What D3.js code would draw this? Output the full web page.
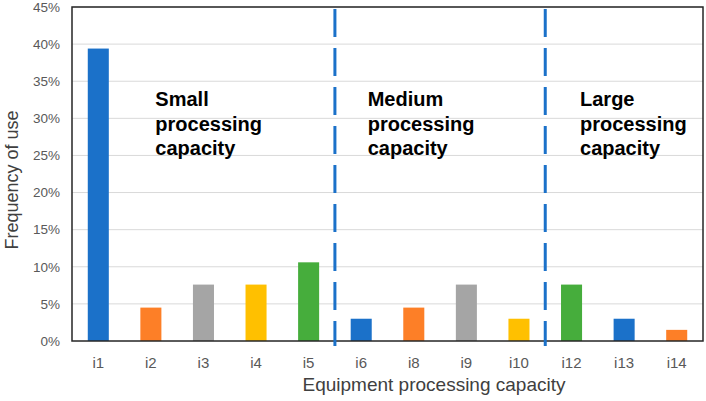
<!DOCTYPE html>
<html><head><meta charset="utf-8">
<script src="https://cdn.jsdelivr.net/npm/d3@7"></script>
<style>body{margin:0;background:#fff}svg{display:block}</style>
</head><body>
<script>
const categories = ["i1","i2","i3","i4","i5","i6","i8","i9","i10","i12","i13","i14"];
const values = [0.394,0.045,0.076,0.076,0.106,0.030,0.045,0.076,0.030,0.076,0.030,0.015];
const barColors = ["#1b71c9","#fd7f27","#a5a5a5","#ffc000","#46ad3c","#1b71c9","#fd7f27","#a5a5a5","#ffc000","#46ad3c","#1b71c9","#fd7f27"];
const yTicks = [0,0.05,0.10,0.15,0.20,0.25,0.30,0.35,0.40,0.45];
const groupBreaks = ["i6","i12"]; // dashed separators before these categories
const groupLabels = [
  {at:"i2", lines:["Small","processing","capacity"]},
  {at:"i6", lines:["Medium","processing","capacity"]},
  {at:"i12", lines:["Large","processing","capacity"]}
];

const W=706,H=401;
const m={l:72,t:7,r:3,b:60};
const svg=d3.select("body").append("svg").attr("width",W).attr("height",H);
const x=d3.scaleBand().domain(categories).range([m.l,W-m.r]).paddingInner(0.6).paddingOuter(0.3);
const y=d3.scaleLinear().domain([0,0.45]).range([H-m.b,m.t]);

// gridlines
svg.append("g").selectAll("line").data(yTicks.slice(1)).join("line")
  .attr("x1",m.l).attr("x2",W-m.r).attr("y1",d=>y(d)).attr("y2",d=>y(d))
  .attr("stroke","#d9d9d9").attr("stroke-width",1);

// bars
svg.append("g").selectAll("rect").data(categories).join("rect")
  .attr("x",d=>x(d)).attr("width",x.bandwidth())
  .attr("y",(d,i)=>y(values[i])).attr("height",(d,i)=>y(0)-y(values[i]))
  .attr("fill",(d,i)=>barColors[i]);

// frame
svg.append("rect").attr("x",m.l).attr("y",m.t).attr("width",W-m.r-m.l).attr("height",y(0)-m.t)
  .attr("fill","none").attr("stroke","#262626").attr("stroke-width",1.5);

// y axis
const ya=svg.append("g").attr("transform",`translate(${m.l},0)`)
  .call(d3.axisLeft(y).tickValues(yTicks).tickFormat(d=>Math.round(d*100)+"%").tickSize(0).tickPadding(12));
ya.select(".domain").remove();
ya.selectAll("text").attr("font-family","Liberation Sans, Arial, sans-serif").attr("font-size",13.5).attr("fill","#595959");

// x axis
const xa=svg.append("g").attr("transform",`translate(0,${y(0)})`)
  .call(d3.axisBottom(x).tickSize(0).tickPadding(16));
xa.select(".domain").remove();
xa.selectAll("text").attr("font-family","Liberation Sans, Arial, sans-serif").attr("font-size",15).attr("fill","#595959");

// dashed separators
const step=x.step();
svg.append("g").selectAll("line").data(groupBreaks).join("line")
  .attr("x1",d=>x(d)-(step-x.bandwidth())/2).attr("x2",d=>x(d)-(step-x.bandwidth())/2)
  .attr("y1",9).attr("y2",y(0)+5)
  .attr("stroke","#1b71c9").attr("stroke-width",3).attr("stroke-dasharray","28,11");

// group labels
const gl=svg.append("g").selectAll("text").data(groupLabels).join("text")
  .attr("x",d=>x(d.at) + (d.at==="i2"? 15 : d.at==="i6"? 17 : 19))
  .attr("y",106).attr("font-family","Liberation Sans, Arial, sans-serif").attr("font-weight","bold")
  .attr("font-size",20).attr("fill","#000");
gl.selectAll("tspan").data(d=>d.lines).join("tspan")
  .attr("x",function(){return d3.select(this.parentNode).attr("x");})
  .attr("dy",(d,i)=>i===0?0:24.5).text(d=>d);

// axis titles
svg.append("text").attr("x",434).attr("y",391).attr("text-anchor","middle")
  .attr("font-family","Liberation Sans, Arial, sans-serif").attr("font-size",19).attr("fill","#404040")
  .text("Equipment processing capacity");
svg.append("text").attr("transform",`translate(18,${(m.t+y(0))/2+6}) rotate(-90)`).attr("text-anchor","middle")
  .attr("font-family","Liberation Sans, Arial, sans-serif").attr("font-size",18).attr("fill","#404040")
  .text("Frequency of use");
</script>
</body></html>
